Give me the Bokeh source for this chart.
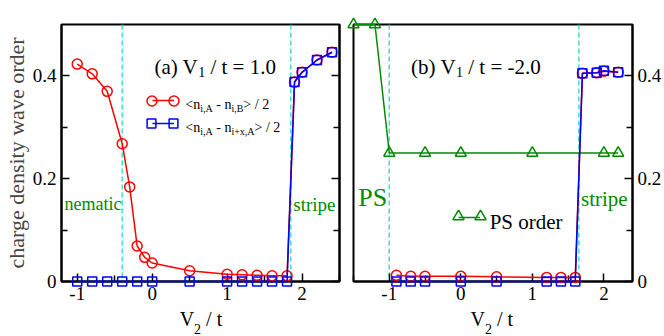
from bokeh.plotting import figure
from bokeh.models import Range1d, FixedTicker, LinearAxis, Span, Legend, LegendItem
from bokeh.core.properties import value
from bokeh.layouts import row
from bokeh.embed import file_html
from bokeh.resources import INLINE

FONT = "'Liberation Serif', serif"
RED = "#ff0000"
BLUE = "#0000ff"
GREEN = "#008b00"
CYAN = "#40e0d0"

# ---------------- data ----------------
# panel (a): V1/t = 1.0
a_ab_x = [-1.0, -0.8, -0.6, -0.4, -0.3, -0.2, -0.1, 0.0, 0.5, 1.0, 1.2, 1.4, 1.6, 1.8, 1.9, 2.0, 2.2, 2.4]
a_ab_y = [0.423, 0.404, 0.370, 0.268, 0.184, 0.069, 0.047, 0.036, 0.021, 0.014, 0.013, 0.012, 0.011, 0.011,
          0.388, 0.407, 0.431, 0.446]
a_st_x = [-1.0, -0.8, -0.6, -0.4, -0.2, 0.0, 0.5, 1.0, 1.2, 1.4, 1.6, 1.8, 1.9, 2.0, 2.2, 2.4]
a_st_y = [0.0, 0.0, 0.0, 0.0, 0.0, 0.0, 0.0, 0.0, 0.0, 0.0, 0.0, 0.0, 0.388, 0.407, 0.431, 0.446]
a_bounds = [-0.4, 1.85]

# panel (b): V1/t = -2.0
b_ab_x = [-0.9, -0.7, -0.5, 0.0, 0.5, 1.2, 1.4, 1.6, 1.7, 1.9, 2.0, 2.2]
b_ab_y = [0.012, 0.010, 0.010, 0.010, 0.009, 0.008, 0.008, 0.008, 0.405, 0.406, 0.409, 0.407]
b_st_x = [-0.9, -0.7, -0.5, 0.0, 0.5, 1.2, 1.4, 1.6, 1.7, 1.9, 2.0, 2.2]
b_st_y = [0.0, 0.0, 0.0, 0.0, 0.0, 0.0, 0.0, 0.0, 0.405, 0.406, 0.410, 0.407]
b_ps_x = [-1.5, -1.2, -1.0, -0.5, 0.0, 1.0, 2.0, 2.2]
b_ps_y = [0.5, 0.5, 0.25, 0.25, 0.25, 0.25, 0.25, 0.25]
b_bounds = [-1.0, 1.65]

x_ticks = [-1, 0, 1, 2]
x_tick_labels = ["-1", "0", "1", "2"]
x_minor = [-1.5, -0.5, 0.5, 1.5, 2.5]
y_ticks = [0, 0.2, 0.4]
y_tick_labels = ["0", "0.2", "0.4"]
y_minor = [0.1, 0.3]

# Times / Liberation Serif advance widths (em)
W = {'(': 0.333, ')': 0.333, 'a': 0.444, ' ': 0.25, 'V': 0.722, '/': 0.278, 't': 0.278, '=': 0.564,
     '1': 0.5, '.': 0.25, '0': 0.5, '-': 0.333, 'b': 0.5, '2': 0.5, '<': 0.564, '>': 0.564, 'n': 0.5,
     'i': 0.278, ',': 0.25, 'A': 0.722, 'B': 0.667, 'x': 0.5, '+': 0.564}


def tw(s, size):
    return sum(W.get(c, 0.5) for c in s) * size


def rich(p, x, y, pieces, color="black", yoff=0):
    """Text with sub-scripts, drawn as text glyphs (overlay level, not clipped)."""
    off = 0.0
    for text, size, dy in pieces:
        lead = len(text) - len(text.lstrip(' '))
        t = text.strip(' ')
        if t:
            p.text(x=[x], y=[y], text=[t], x_offset=off + lead * 0.25 * size, y_offset=-(yoff + dy),
                   text_font=value(FONT), text_font_size=f"{size}px", text_color=color,
                   text_baseline="alphabetic", text_align="left", level="overlay")
        off += tw(text, size)


def style_axis(ax, ticks, labels, minor, show_labels=True):
    ax.ticker = FixedTicker(ticks=ticks, minor_ticks=minor)
    if show_labels:
        ax.major_label_overrides = {t: l for t, l in zip(ticks, labels)}
    else:
        ax.major_label_overrides = {t: "" for t in ticks}
    ax.major_label_text_font = FONT
    ax.major_label_text_font_size = "19px"
    ax.major_label_text_color = "black"
    ax.major_label_standoff = 5
    ax.axis_line_width = 2
    ax.major_tick_in = 8
    ax.major_tick_out = 0
    ax.minor_tick_in = 6
    ax.minor_tick_out = 0
    ax.major_tick_line_width = 1.5
    ax.minor_tick_line_width = 1.5
    ax.axis_label_text_font = FONT
    ax.axis_label_text_font_style = "normal"


def make_fig(xr, width, mbl, mbr, yloc):
    p = figure(width=width, height=336, x_range=Range1d(*xr), y_range=Range1d(0, 0.5),
               output_backend="svg", toolbar_location=None, min_border_left=mbl, min_border_right=mbr,
               min_border_top=24, min_border_bottom=55, y_axis_location=yloc)
    p.grid.visible = False
    p.outline_line_color = "black"
    p.outline_line_width = 2
    p.outline_line_alpha = 1
    style_axis(p.xaxis[0], x_ticks, x_tick_labels, x_minor)
    style_axis(p.yaxis[0], y_ticks, y_tick_labels, y_minor)
    return p


def legend_piece(p, renderer, cx, cy, w, h):
    lg = Legend(items=[LegendItem(label=" ", renderers=[renderer])], location=(cx - w / 2, cy - h / 2),
                glyph_width=int(round(w)), glyph_height=int(round(h)), label_height=int(round(h)),
                label_width=0, label_standoff=0, padding=0, margin=0, spacing=0,
                border_line_alpha=0, background_fill_alpha=0, label_text_font_size="1px")
    p.add_layout(lg)


def series(p, xs, ys, color, marker, size):
    lr = p.line(xs, ys, line_color=color, line_width=1.5, level="overlay")
    sr = p.scatter(xs, ys, marker=marker, size=size, line_color=color, fill_color=None,
                   line_width=1.5, level="overlay")
    return lr, sr


# ---------------- panel (a) ----------------
pa = make_fig((-1.21, 2.5), 346, 61, 7, "left")
pa.yaxis[0].axis_label = "charge density wave order"
pa.yaxis[0].axis_label_text_font_size = "22px"
pa.yaxis[0].axis_label_standoff = 1
ra = LinearAxis()
style_axis(ra, y_ticks, y_tick_labels, y_minor, show_labels=False)
pa.add_layout(ra, "right")
for b in a_bounds:
    pa.add_layout(Span(location=b, dimension="height", line_color=CYAN, line_dash="5 3",
                       line_width=1.5, level="underlay"))
la_r, sa_r = series(pa, a_ab_x, a_ab_y, RED, "circle", 10)
la_b, sa_b = series(pa, a_st_x, a_st_y, BLUE, "square", 9)

# legend samples (screen px relative to frame)
legend_piece(pa, la_r, 101.5, 181, 22, 12)
legend_piece(pa, sa_r, 90.7, 181, 25, 25)
legend_piece(pa, sa_r, 112.3, 181, 25, 25)
legend_piece(pa, la_b, 101.5, 158, 22, 12)
legend_piece(pa, sa_b, 90.7, 158, 22.5, 22.5)
legend_piece(pa, sa_b, 112.3, 158, 22.5, 22.5)

rich(pa, 0.443, 0.344, [("<n", 14, 0), ("i,A", 10, -4), (" - n", 14, 0), ("i,B", 10, -4), ("> / 2", 14, 0)])
rich(pa, 0.443, 0.300, [("<n", 14, 0), ("i,A", 10, -4), (" - n", 14, 0), ("i+x,A", 10, -4), ("> / 2", 14, 0)])
rich(pa, 0.03, 0.417, [("(a) V", 21, 0), ("1", 14, -5), (" / t = 1.0", 21, 0)])
rich(pa, -1.17, 0.15, [("nematic", 18, 0)], color=GREEN)
rich(pa, 1.883, 0.15, [("stripe", 19, 0)], color=GREEN)
rich(pa, 0.367, 0.0, [("V", 20, 0), ("2", 14, -10), (" / t", 20, 0)], yoff=-37)

# ---------------- panel (b) ----------------
pb = make_fig((-1.5, 2.4), 318, 7, 32, "right")
for b in b_bounds:
    pb.add_layout(Span(location=b, dimension="height", line_color=CYAN, line_dash="5 3",
                       line_width=1.5, level="underlay"))
lb_g, sb_g = series(pb, b_ps_x, b_ps_y, GREEN, "triangle", 11)
lb_r, sb_r = series(pb, b_ab_x, b_ab_y, RED, "circle", 10)
lb_b, sb_b = series(pb, b_st_x, b_st_y, BLUE, "square", 9)

legend_piece(pb, lb_g, 115.85, 64.3, 22, 12)
legend_piece(pb, sb_g, 105, 64.3, 27.5, 27.5)
legend_piece(pb, sb_g, 126.7, 64.3, 27.5, 27.5)
rich(pb, 0.403, 0.115, [("PS order", 21, 0)])
rich(pb, -0.695, 0.417, [("(b) V", 21, 0), ("1", 14, -5), (" / t = -2.0", 21, 0)])
rich(pb, -1.434, 0.164, [("PS", 26, 0)], color=GREEN)
rich(pb, 1.68, 0.16, [("stripe", 21, 0)], color=GREEN)
rich(pb, 0.137, 0.0, [("V", 20, 0), ("2", 14, -10), (" / t", 20, 0)], yoff=-37)

layout = row(pa, pb)
open("out.html", "w").write(file_html(layout, INLINE))
